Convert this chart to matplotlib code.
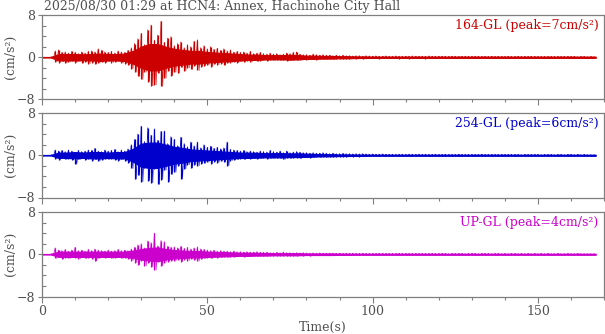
#!/usr/bin/env python3
# plot.py - three-component accelerogram, HCN4 Annex (Hachinohe City Hall)
import numpy as np
import matplotlib as mpl

mpl.use("Agg")
mpl.rcParams["font.family"] = ["DejaVu Serif"]
mpl.rcParams["font.size"] = 9

from matplotlib import pyplot as plt
from matplotlib.ticker import MultipleLocator

# ─── data (cm/s^2) ───────────────────────────────────────────────────
# *_UP / *_DN : largest positive / negative swing in each 1 s window
# *_CORE      : half-width of the solid part of the trace, every 2.5 s
DT = 1.0
CORE_DT = 2.5

R_UP = [
    0.0, 0.0, 0.0, 0.1, 1.2, 1.4, 0.9, 1.0, 0.8, 1.1,
    0.9, 0.7, 1.0, 0.8, 1.1, 1.2, 1.0, 1.6, 1.3, 1.0,
    0.9, 1.1, 0.8, 1.2, 1.0, 0.9, 1.3, 1.8, 2.6, 3.5,
    4.5, 2.4, 5.2, 6.1, 3.2, 4.2, 6.8, 2.8, 3.6, 3.9,
    2.2, 2.6, 2.9, 1.8, 2.4, 2.0, 3.0, 3.3, 1.8, 2.2,
    1.6, 2.0, 1.5, 1.7, 1.3, 1.6, 1.2, 1.4, 1.0, 1.1,
    0.9, 1.0, 0.8, 1.1, 0.7, 0.8, 0.9, 0.7, 0.6, 0.8,
    0.6, 0.7, 0.5, 0.6, 0.8, 0.7, 0.9, 1.0, 0.6, 0.5,
    0.5, 0.4, 0.6, 0.5, 0.4, 0.5, 0.4, 0.4, 0.3, 0.4,
    0.3, 0.4, 0.3, 0.3, 0.25, 0.3, 0.3, 0.2, 0.3, 0.25,
    0.2, 0.25, 0.2, 0.2, 0.25, 0.2, 0.2, 0.25, 0.2, 0.2,
    0.2, 0.2, 0.25, 0.2, 0.2, 0.2, 0.2, 0.25, 0.2, 0.2,
    0.2, 0.2, 0.2, 0.15, 0.2, 0.2, 0.15, 0.2, 0.2, 0.2,
    0.15, 0.2, 0.2, 0.15, 0.2, 0.15, 0.2, 0.15, 0.2, 0.15,
    0.15, 0.2, 0.15, 0.15, 0.2, 0.15, 0.15, 0.15, 0.2, 0.15,
    0.15, 0.15, 0.15, 0.15, 0.15, 0.15, 0.15, 0.15, 0.15, 0.15,
    0.15, 0.15, 0.1, 0.15, 0.15, 0.1, 0.15, 0.1,
]
R_DN = [
    0.0, 0.0, 0.0, -0.1, -0.9, -1.0, -0.8, -1.1, -0.9, -0.7,
    -1.0, -0.8, -1.1, -0.9, -1.2, -1.0, -1.3, -1.1, -0.9, -1.0,
    -0.8, -1.0, -0.9, -0.7, -1.1, -1.2, -1.5, -2.2, -2.8, -3.6,
    -4.2, -2.8, -4.6, -5.4, -5.2, -3.0, -5.5, -4.0, -2.6, -3.5,
    -2.8, -3.0, -1.9, -2.6, -2.0, -2.3, -1.6, -2.5, -1.8, -1.6,
    -1.5, -1.8, -1.3, -1.4, -1.2, -1.5, -1.1, -1.0, -0.9, -1.0,
    -0.8, -0.9, -0.7, -0.9, -0.6, -0.8, -0.7, -0.6, -0.7, -0.5,
    -0.6, -0.5, -0.6, -0.5, -0.7, -0.6, -0.5, -0.6, -0.5, -0.4,
    -0.5, -0.4, -0.4, -0.5, -0.3, -0.4, -0.4, -0.3, -0.4, -0.3,
    -0.3, -0.3, -0.25, -0.3, -0.2, -0.25, -0.2, -0.25, -0.2, -0.2,
    -0.2, -0.2, -0.25, -0.2, -0.2, -0.2, -0.2, -0.2, -0.25, -0.2,
    -0.2, -0.25, -0.2, -0.2, -0.2, -0.2, -0.25, -0.2, -0.2, -0.2,
    -0.2, -0.15, -0.2, -0.2, -0.2, -0.15, -0.2, -0.2, -0.15, -0.2,
    -0.2, -0.15, -0.2, -0.15, -0.15, -0.2, -0.15, -0.2, -0.15, -0.15,
    -0.15, -0.15, -0.2, -0.15, -0.15, -0.15, -0.2, -0.15, -0.15, -0.15,
    -0.15, -0.15, -0.15, -0.15, -0.15, -0.15, -0.15, -0.15, -0.15, -0.15,
    -0.1, -0.15, -0.15, -0.1, -0.15, -0.15, -0.1, -0.1,
]
R_CORE = [
    0.0, 0.0, 0.6, 0.6, 0.6, 0.55, 0.6, 0.7, 0.6, 0.6,
    0.7, 1.2, 2.0, 2.5, 2.5, 2.0, 1.6, 1.4, 1.2, 1.2,
    1.0, 0.9, 0.8, 0.7, 0.6, 0.5, 0.5, 0.4, 0.4, 0.4,
    0.45, 0.4, 0.3, 0.3, 0.25, 0.25, 0.2, 0.2, 0.15, 0.15,
    0.12, 0.12, 0.12, 0.12, 0.12, 0.12, 0.12, 0.12, 0.12, 0.12,
    0.12, 0.12, 0.12, 0.12, 0.12, 0.12, 0.12, 0.12, 0.12, 0.12,
    0.12, 0.12, 0.12, 0.12, 0.12, 0.12, 0.12, 0.12,
]

B_UP = [
    0.0, 0.0, 0.0, 0.1, 1.0, 0.8, 0.9, 0.7, 1.0, 0.8,
    0.6, 0.9, 0.7, 0.8, 1.0, 0.9, 1.3, 0.8, 0.7, 1.0,
    0.8, 0.9, 1.1, 0.7, 1.0, 0.8, 1.2, 2.0, 3.0, 4.0,
    5.5, 2.6, 5.2, 3.8, 5.0, 2.8, 4.5, 4.6, 2.2, 3.5,
    3.0, 1.8, 3.4, 2.2, 1.6, 2.5, 1.8, 2.5, 1.4, 2.0,
    1.5, 1.7, 1.3, 1.5, 1.2, 1.4, 2.5, 1.1, 1.0, 0.9,
    0.8, 0.9, 0.7, 0.8, 0.7, 0.6, 0.8, 0.7, 0.6, 0.9,
    0.7, 0.6, 0.8, 0.5, 0.8, 0.5, 0.6, 0.7, 0.6, 0.5,
    0.5, 0.4, 0.5, 0.4, 0.4, 0.5, 0.4, 0.3, 0.4, 0.3,
    0.3, 0.35, 0.3, 0.3, 0.25, 0.3, 0.25, 0.3, 0.25, 0.2,
    0.25, 0.2, 0.2, 0.25, 0.2, 0.2, 0.2, 0.15, 0.2, 0.2,
    0.15, 0.2, 0.2, 0.15, 0.2, 0.15, 0.2, 0.15, 0.15, 0.2,
    0.15, 0.15, 0.2, 0.15, 0.15, 0.15, 0.2, 0.15, 0.15, 0.15,
    0.15, 0.15, 0.15, 0.2, 0.15, 0.15, 0.15, 0.15, 0.15, 0.15,
    0.15, 0.15, 0.15, 0.15, 0.15, 0.1, 0.15, 0.15, 0.15, 0.15,
    0.15, 0.1, 0.15, 0.15, 0.15, 0.1, 0.15, 0.15, 0.1, 0.15,
    0.15, 0.1, 0.15, 0.1, 0.15, 0.1, 0.1, 0.1,
]
B_DN = [
    0.0, 0.0, 0.0, -0.1, -0.7, -0.9, -0.6, -0.8, -0.7, -0.9,
    -1.7, -0.8, -0.6, -0.9, -0.7, -1.0, -0.8, -1.1, -0.9, -0.7,
    -0.8, -0.7, -0.9, -1.0, -0.8, -1.1, -1.4, -2.5, -4.5, -3.8,
    -5.0, -2.4, -4.8, -5.2, -2.6, -5.5, -4.6, -2.8, -5.0, -3.6,
    -3.2, -2.0, -4.5, -2.6, -1.8, -2.4, -1.8, -2.0, -1.6, -1.5,
    -1.3, -1.6, -1.2, -1.4, -1.1, -1.3, -2.0, -1.0, -0.9, -0.8,
    -0.7, -0.8, -0.6, -0.7, -0.6, -0.7, -0.6, -0.5, -0.7, -0.6,
    -0.6, -0.5, -0.6, -0.8, -0.5, -0.6, -0.5, -0.5, -0.6, -0.4,
    -0.4, -0.5, -0.4, -0.3, -0.4, -0.3, -0.4, -0.3, -0.3, -0.3,
    -0.3, -0.25, -0.3, -0.2, -0.25, -0.2, -0.25, -0.2, -0.2, -0.2,
    -0.2, -0.2, -0.15, -0.2, -0.2, -0.15, -0.2, -0.2, -0.15, -0.2,
    -0.15, -0.2, -0.15, -0.15, -0.2, -0.15, -0.15, -0.2, -0.15, -0.15,
    -0.15, -0.15, -0.15, -0.2, -0.15, -0.15, -0.15, -0.15, -0.15, -0.15,
    -0.15, -0.15, -0.1, -0.15, -0.15, -0.15, -0.15, -0.1, -0.15, -0.15,
    -0.15, -0.1, -0.15, -0.15, -0.1, -0.15, -0.15, -0.15, -0.1, -0.15,
    -0.15, -0.15, -0.1, -0.15, -0.1, -0.15, -0.15, -0.1, -0.15, -0.1,
    -0.1, -0.15, -0.1, -0.15, -0.1, -0.1, -0.15, -0.1,
]
B_CORE = [
    0.0, 0.0, 0.5, 0.5, 0.6, 0.5, 0.6, 0.6, 0.5, 0.6,
    0.6, 1.2, 2.2, 2.4, 2.4, 2.0, 1.6, 1.4, 1.1, 1.0,
    0.9, 0.8, 0.7, 0.6, 0.5, 0.5, 0.45, 0.4, 0.4, 0.4,
    0.35, 0.35, 0.3, 0.25, 0.2, 0.2, 0.15, 0.15, 0.12, 0.12,
    0.1, 0.1, 0.1, 0.1, 0.1, 0.1, 0.1, 0.1, 0.1, 0.1,
    0.1, 0.1, 0.1, 0.1, 0.1, 0.1, 0.1, 0.1, 0.1, 0.1,
    0.1, 0.1, 0.1, 0.1, 0.1, 0.1, 0.1, 0.1,
]

M_UP = [
    0.0, 0.0, 0.0, 0.1, 1.2, 0.8, 0.7, 0.9, 0.6, 0.8,
    1.3, 0.7, 0.8, 0.6, 0.9, 0.7, 1.0, 0.8, 0.7, 0.6,
    0.8, 0.6, 0.7, 0.9, 0.7, 0.8, 0.7, 1.0, 1.3, 1.8,
    2.0, 1.2, 2.5, 2.2, 4.0, 1.6, 2.6, 2.4, 1.5, 1.3,
    1.4, 1.2, 1.5, 1.1, 1.3, 1.0, 1.2, 1.4, 1.0, 0.9,
    0.8, 0.7, 0.8, 0.6, 0.7, 0.6, 0.6, 0.5, 0.6, 0.5,
    0.5, 0.4, 0.5, 0.4, 0.4, 0.5, 0.4, 0.35, 0.4, 0.3,
    0.3, 0.35, 0.3, 0.4, 0.3, 0.3, 0.25, 0.3, 0.25, 0.3,
    0.25, 0.2, 0.25, 0.2, 0.25, 0.2, 0.2, 0.2, 0.2, 0.2,
    0.2, 0.15, 0.2, 0.15, 0.2, 0.15, 0.15, 0.2, 0.15, 0.15,
    0.15, 0.15, 0.2, 0.15, 0.15, 0.15, 0.15, 0.15, 0.2, 0.15,
    0.15, 0.15, 0.15, 0.15, 0.15, 0.15, 0.15, 0.15, 0.15, 0.15,
    0.15, 0.15, 0.15, 0.1, 0.15, 0.15, 0.15, 0.15, 0.1, 0.15,
    0.15, 0.15, 0.1, 0.15, 0.15, 0.15, 0.1, 0.15, 0.15, 0.1,
    0.15, 0.1, 0.15, 0.15, 0.1, 0.15, 0.1, 0.15, 0.1, 0.15,
    0.1, 0.15, 0.1, 0.15, 0.1, 0.1, 0.15, 0.1, 0.1, 0.15,
    0.1, 0.1, 0.15, 0.1, 0.1, 0.1, 0.1, 0.1,
]
M_DN = [
    0.0, 0.0, 0.0, -0.1, -0.8, -0.6, -0.9, -0.7, -0.8, -0.6,
    -0.7, -0.9, -0.6, -0.8, -0.7, -0.9, -1.3, -0.8, -0.6, -0.7,
    -0.6, -0.8, -0.7, -0.6, -0.8, -0.7, -0.9, -1.2, -1.6, -2.0,
    -1.2, -2.2, -1.6, -2.4, -3.0, -1.4, -2.2, -1.6, -1.4, -1.2,
    -1.3, -1.1, -1.4, -1.0, -1.2, -0.9, -1.1, -1.3, -0.9, -0.8,
    -0.7, -0.8, -0.6, -0.7, -0.6, -0.5, -0.6, -0.5, -0.5, -0.4,
    -0.4, -0.5, -0.4, -0.4, -0.3, -0.4, -0.3, -0.3, -0.35, -0.3,
    -0.3, -0.3, -0.25, -0.3, -0.3, -0.25, -0.3, -0.25, -0.2, -0.25,
    -0.2, -0.25, -0.2, -0.2, -0.2, -0.2, -0.2, -0.15, -0.2, -0.2,
    -0.15, -0.2, -0.15, -0.15, -0.2, -0.15, -0.15, -0.15, -0.2, -0.15,
    -0.15, -0.15, -0.15, -0.2, -0.15, -0.15, -0.15, -0.15, -0.15, -0.15,
    -0.15, -0.15, -0.15, -0.15, -0.1, -0.15, -0.15, -0.15, -0.15, -0.15,
    -0.15, -0.1, -0.15, -0.15, -0.15, -0.15, -0.1, -0.15, -0.15, -0.15,
    -0.1, -0.15, -0.15, -0.1, -0.15, -0.15, -0.1, -0.15, -0.1, -0.15,
    -0.15, -0.1, -0.15, -0.1, -0.15, -0.1, -0.15, -0.1, -0.15, -0.1,
    -0.1, -0.15, -0.1, -0.1, -0.15, -0.1, -0.1, -0.15, -0.1, -0.1,
    -0.1, -0.1, -0.1, -0.15, -0.1, -0.1, -0.1, -0.1,
]
M_CORE = [
    0.0, 0.0, 0.5, 0.5, 0.5, 0.5, 0.5, 0.5, 0.5, 0.5,
    0.5, 0.7, 1.0, 1.2, 1.3, 1.0, 0.8, 0.7, 0.6, 0.6,
    0.5, 0.45, 0.4, 0.35, 0.3, 0.3, 0.25, 0.25, 0.2, 0.2,
    0.2, 0.2, 0.15, 0.15, 0.15, 0.15, 0.12, 0.12, 0.1, 0.1,
    0.1, 0.1, 0.1, 0.1, 0.1, 0.1, 0.1, 0.1, 0.1, 0.1,
    0.1, 0.1, 0.1, 0.1, 0.1, 0.1, 0.1, 0.1, 0.1, 0.1,
    0.1, 0.1, 0.1, 0.1, 0.1, 0.1, 0.1, 0.1,
]

TITLE = "2025/08/30 01:29 at HCN4: Annex, Hachinohe City Hall"
COMPONENTS = ["164-GL", "254-GL", "UP-GL"]
PEAKS = [7, 6, 4]
COLORS = ["#cc0000", "#0000cc", "#cc00cc"]
TRACES = [(R_UP, R_DN, R_CORE), (B_UP, B_DN, B_CORE), (M_UP, M_DN, M_CORE)]

GRAY = "#7f7f7f"
TXT = "#505050"

# ─── layout (pixels of a 605x334 canvas) ─────────────────────────────
W, H = 605, 334
fig = plt.figure(figsize=(W / 100, H / 100), dpi=100)
left, right = 42 / W, 604 / W
tops = [15, 113, 212]
ph = 84.5

axes = []
for i, (comp, pk, col, (up, dn, core)) in enumerate(
    zip(COMPONENTS, PEAKS, COLORS, TRACES)
):
    ax = fig.add_axes([left, 1 - (tops[i] + ph) / H, right - left, ph / H])

    # solid body of the record
    tc = np.arange(len(core)) * CORE_DT
    core = np.asarray(core)
    ax.fill_between(tc, -core, core, facecolor=col, edgecolor=col, lw=0.8)
    # individual swings: peak bars + the up/down path between them
    t = np.arange(len(up)) * DT
    ax.vlines(t, dn, up, color=col, lw=0.9)
    path = np.empty(2 * len(up))
    path[0::2] = up
    path[1::2] = dn
    ax.plot(np.arange(path.size) * DT / 2, path, color=col, lw=0.5)

    ax.set_xlim(0, 170)
    ax.set_ylim(-8, 8)
    ax.set_yticks([-8, 0, 8])
    ax.yaxis.set_minor_locator(MultipleLocator(2))
    ax.xaxis.set_major_locator(MultipleLocator(50))
    ax.xaxis.set_minor_locator(MultipleLocator(10))

    for s in ax.spines.values():
        s.set_color(GRAY)
        s.set_linewidth(0.9)
    ax.tick_params(which="both", color=GRAY, labelcolor=TXT, width=0.8)
    ax.tick_params(axis="x", which="major", direction="out", length=4, pad=2)
    ax.tick_params(axis="x", which="minor", direction="out", length=2.5)
    ax.tick_params(axis="y", which="major", direction="out", length=3, pad=2)
    ax.tick_params(axis="y", which="minor", direction="in", length=3)
    if i < 2:
        ax.tick_params(axis="x", labelbottom=False)

    ax.set_ylabel("(cm/s²)", color=TXT)
    ax.yaxis.set_label_coords(-0.045, 0.5)

    ax.text(0.99, 0.88, f"{comp} (peak={pk}cm/s²)", color=col,
            ha="right", va="center", transform=ax.transAxes)
    axes.append(ax)

axes[-1].set_xlabel("Time(s)", color=TXT, labelpad=2)
axes[0].text(0.003, 1.02, TITLE, color=TXT, ha="left", va="bottom",
             transform=axes[0].transAxes)

fig.savefig("out.png", dpi=100)
